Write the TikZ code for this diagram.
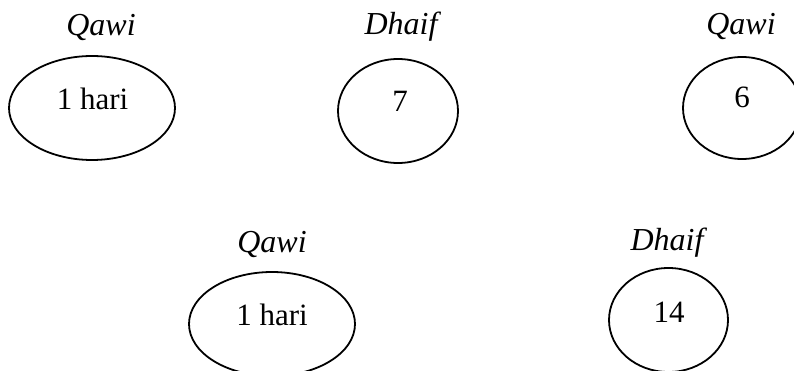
\documentclass[tikz,border=0pt]{standalone}
\usepackage{fontspec}
\setmainfont{Liberation Serif}
\usetikzlibrary{shapes.geometric}
\begin{document}
\begin{tikzpicture}[x=1pt,y=-1pt,
  oval/.style={draw,ellipse,line width=1.8pt,inner sep=0pt,outer sep=0pt},
  lbl/.style={anchor=base,inner sep=0pt,font=\fontsize{32}{36}\selectfont\itshape},
  val/.style={anchor=base,inner sep=0pt,font=\fontsize{31}{36}\selectfont}]
\useasboundingbox (0,0) rectangle (794,371);
\clip (0,0) rectangle (794,371);
% top row
\node[lbl] (l1) at (101,36) {Qawi};
\node[oval,minimum width=166pt,minimum height=104pt] (e1) at (92,108) {};
\node[val] (v1) at (92.5,110) {1 hari};
\node[lbl] (l2) at (401,35) {Dhaif};
\node[oval,minimum width=120pt,minimum height=104pt] (e2) at (398,111) {};
\node[val] (v2) at (400,112) {7};
\node[lbl] (l3) at (741,35) {Qawi};
\node[oval,minimum width=118pt,minimum height=102pt] (e3) at (742,108) {};
\node[val] (v3) at (742,108) {6};
% bottom row
\node[lbl] (l4) at (272,252) {Qawi};
\node[oval,minimum width=166pt,minimum height=104pt] (e4) at (272,324) {};
\node[val] (v4) at (272,325) {1 hari};
\node[lbl] (l5) at (667,250) {Dhaif};
\node[oval,minimum width=119pt,minimum height=104pt] (e5) at (668.5,320) {};
\node[val] (v5) at (669,322) {14};
\end{tikzpicture}
\end{document}
